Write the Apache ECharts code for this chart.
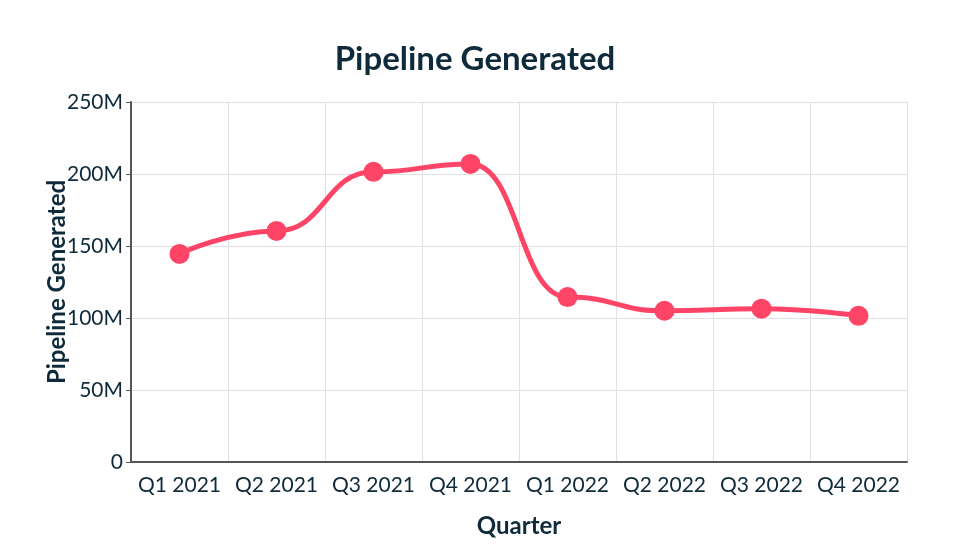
<!DOCTYPE html>
<html>
<head>
<meta charset="utf-8">
<script src="https://cdn.jsdelivr.net/npm/echarts@6/dist/echarts.min.js"></script>
<style>
  html, body { margin: 0; padding: 0; background: #fff; }
  #chart { width: 980px; height: 556px; }
</style>
</head>
<body>
<div id="chart"></div>
<script>
const quarters = ['Q1 2021', 'Q2 2021', 'Q3 2021', 'Q4 2021', 'Q1 2022', 'Q2 2022', 'Q3 2022', 'Q4 2022']
const pipeline = [144.5, 160.5, 201.5, 207, 114.5, 105, 106.5, 101.5]
const yTicks = [0, 50, 250]

const textColor = '#0f2a3a'
const font = 'Lato'

const chart = echarts.init(document.getElementById('chart'))
chart.setOption({
    animation: false,
    title: {
        text: 'Pipeline Generated',
        left: 470,
        textAlign: 'center',
        top: 38,
        textStyle: { fontFamily: font, fontSize: 33, fontWeight: 'bold', color: textColor }
    },
    grid: { left: 131, right: 73, top: 102, bottom: 94 },
    xAxis: {
        type: 'category',
        data: quarters,
        boundaryGap: true,
        name: 'Quarter',
        nameLocation: 'middle',
        nameGap: 52,
        nameMoveOverlap: false,
        nameTextStyle: { fontFamily: font, fontSize: 24, fontWeight: 'bold', color: textColor },
        axisLine: { lineStyle: { color: '#555', width: 2 } },
        axisTick: { alignWithLabel: true, interval: 0, length: 5, lineStyle: { color: '#555' } },
        axisLabel: { fontFamily: font, fontSize: 21, color: textColor, margin: 13, interval: 0 },
        splitLine: { show: true, interval: 0, lineStyle: { color: '#e0e0e0' } }
    },
    yAxis: {
        type: 'value',
        min: yTicks[0],
        max: yTicks[2],
        interval: yTicks[1],
        name: 'Pipeline Generated',
        nameLocation: 'middle',
        nameGap: 62,
        nameMoveOverlap: false,
        nameTextStyle: { fontFamily: font, fontSize: 24, fontWeight: 'bold', color: textColor },
        axisLine: { show: true, lineStyle: { color: '#555', width: 2 } },
        axisTick: { show: true, length: 5, lineStyle: { color: '#555' } },
        axisLabel: {
            fontFamily: font, fontSize: 21, color: textColor, margin: 8,
            formatter: v => v === 0 ? '0' : v + 'M'
        },
        splitLine: { show: true, lineStyle: { color: '#e0e0e0' } }
    },
    series: [{
        type: 'line',
        data: pipeline,
        smooth: 0.5,
        smoothMonotone: 'x',
        symbol: 'circle',
        symbolSize: 20,
        lineStyle: { color: '#ff4567', width: 5 },
        itemStyle: { color: '#ff4567' }
    }]
})
</script>
</body>
</html>
